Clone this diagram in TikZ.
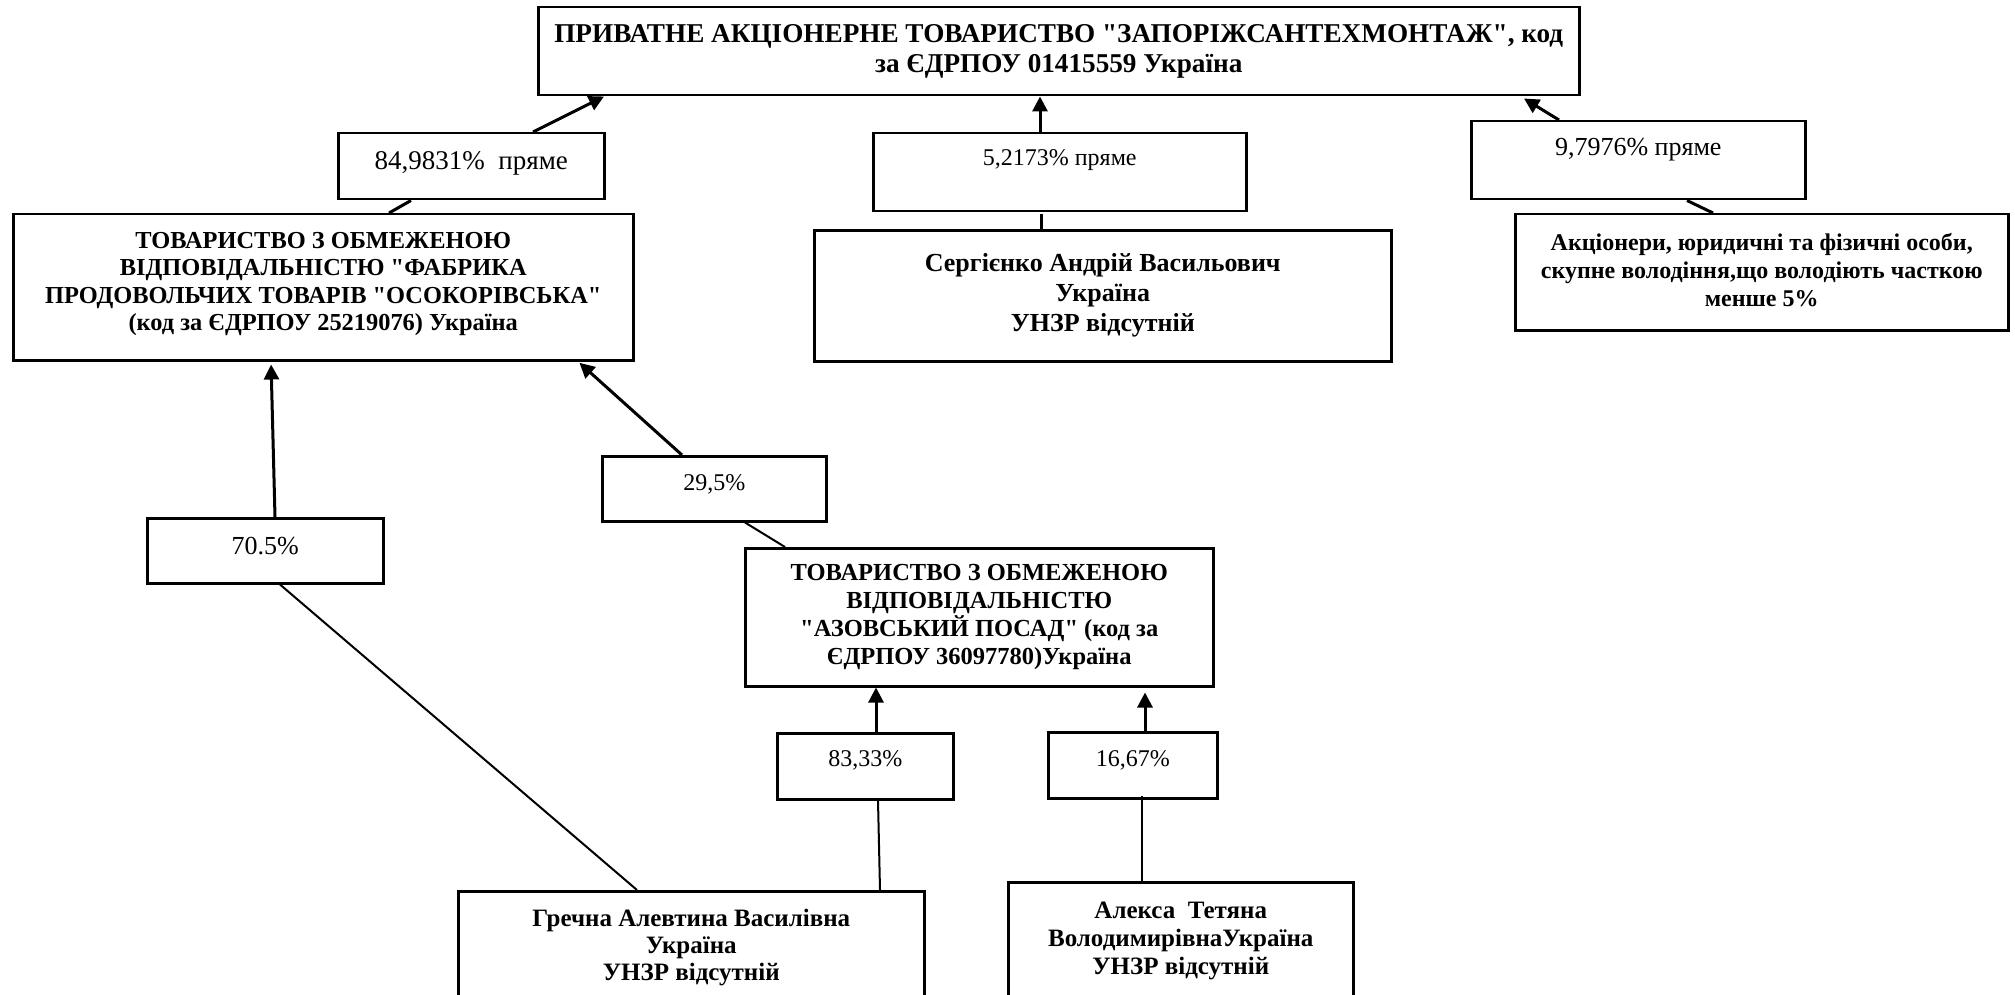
\documentclass[tikz,border=0pt]{standalone}
\usepackage{fontspec}
\setmainfont{Liberation Serif}[Ligatures=TeXOff]
\usetikzlibrary{arrows.meta}
\tikzset{
  entbox/.style={draw, line width=2.5pt, rectangle, inner sep=0pt, anchor=north west, align=center, font=\bfseries},
  pctbox/.style={draw, line width=2.5pt, rectangle, inner xsep=0pt, inner ysep=0pt, anchor=north west},
  arr/.style={line width=3pt, -{Triangle[length=15pt,width=15pt]}},
  thick link/.style={line width=3pt},
  thin link/.style={line width=2pt}
}
\begin{document}
\begin{tikzpicture}[x=1pt,y=-1pt]
\useasboundingbox (0,0) rectangle (2015,995);
% entity boxes
\node[entbox, minimum width=1041pt, minimum height=88pt, font=\fontsize{27.2}{30}\selectfont\bfseries] (A) at (537,6)
  {ПРИВАТНЕ АКЦІОНЕРНЕ ТОВАРИСТВО "ЗАПОРІЖСАНТЕХМОНТАЖ", код\\за ЄДРПОУ 01415559 Україна};
\node[entbox, minimum width=620pt, minimum height=146pt, font=\fontsize{24.4}{27.5}\selectfont\bfseries] (B) at (12,213)
  {ТОВАРИСТВО З ОБМЕЖЕНОЮ\\ВІДПОВІДАЛЬНІСТЮ "ФАБРИКА\\ПРОДОВОЛЬЧИХ ТОВАРІВ "ОСОКОРІВСЬКА"\\(код за ЄДРПОУ 25219076) Україна\rule[-12pt]{0pt}{1pt}};
\node[entbox, minimum width=577pt, minimum height=131pt, font=\fontsize{26}{30}\selectfont\bfseries] (C) at (813,229)
  {Сергієнко Андрій Васильович\\Україна\\УНЗР відсутній\rule[-6pt]{0pt}{1pt}};
\node[entbox, minimum width=493pt, minimum height=116pt, font=\fontsize{24}{28}\selectfont\bfseries] (D) at (1514,213)
  {Акціонери, юридичні та фізичні особи,\\скупне володіння,що володіють часткою\\менше 5\%\rule[-5pt]{0pt}{1pt}};
\node[entbox, minimum width=468pt, minimum height=138pt, font=\fontsize{24.5}{28}\selectfont\bfseries] (E) at (744,547)
  {ТОВАРИСТВО З ОБМЕЖЕНОЮ\\ВІДПОВІДАЛЬНІСТЮ\\"АЗОВСЬКИЙ ПОСАД" (код за\\ЄДРПОУ 36097780)Україна};
\node[entbox, minimum width=466pt, minimum height=113pt, font=\fontsize{25}{27}\selectfont\bfseries] (F) at (457,890)
  {Гречна Алевтина Василівна\\Україна\\УНЗР відсутній};
\node[entbox, minimum width=345pt, minimum height=117pt, font=\fontsize{25}{28}\selectfont\bfseries] (G) at (1007,881)
  {Алекса\ \ Тетяна\\ВолодимирівнаУкраїна\\УНЗР відсутній\rule[-5pt]{0pt}{1pt}};
% percentage boxes
\node[pctbox, minimum width=266pt, text height=36pt, text depth=30pt, font=\fontsize{27}{30}\selectfont] (p1) at (337,132) {84,9831\%\ \ пряме};
\node[pctbox, minimum width=373pt, text height=32pt, text depth=46pt, font=\fontsize{24}{28}\selectfont] (p2) at (872,132) {5,2173\% пряме};
\node[pctbox, minimum width=334pt, text height=34pt, text depth=44pt, font=\fontsize{26}{30}\selectfont] (p3) at (1470,120) {9,7976\% пряме};
\node[pctbox, minimum width=224pt, text height=34pt, text depth=31pt, font=\fontsize{24}{28}\selectfont] (p4) at (601,455) {29,5\%};
\node[pctbox, minimum width=236pt, text height=36pt, text depth=29pt, font=\fontsize{26}{30}\selectfont] (p5) at (146,517) {70.5\%};
\node[pctbox, minimum width=176pt, text height=33pt, text depth=33pt, font=\fontsize{24}{28}\selectfont] (p6) at (776,732) {83,33\%};
\node[pctbox, minimum width=169pt, text height=34pt, text depth=32pt, font=\fontsize{24}{28}\selectfont] (p7) at (1047,731) {16,67\%};
% connectors
\draw[arr] ([xshift=196pt]p1.north west) -- ([xshift=67pt]A.south west);
\draw[thick link] ([xshift=377pt]B.north west) -- ([xshift=74pt]p1.south west);
\draw[arr] ([xshift=168pt]p2.north west) -- ([xshift=503pt]A.south west);
\draw[thick link] ([xshift=228pt]C.north west) -- ([xshift=169pt,yshift=-2pt]p2.south west);
\draw[arr] ([xshift=89pt]p3.north west) -- ([xshift=987pt,yshift=-2pt]A.south west);
\draw[thick link] ([xshift=199pt]D.north west) -- ([xshift=217pt]p3.south west);
\draw[arr, shorten >=3pt] ([xshift=129pt]p5.north west) -- ([xshift=259pt]B.south west);
\draw[arr, shorten >=2pt] ([xshift=81pt]p4.north west) -- ([xshift=566pt]B.south west);
\draw[thin link] ([xshift=41pt]E.north west) -- ([xshift=144pt]p4.south west);
\draw[thin link] ([xshift=180pt]F.north west) -- ([xshift=134pt]p5.south west);
\draw[thin link] ([xshift=423pt]F.north west) -- ([xshift=102pt]p6.south west);
\draw[arr] ([xshift=100pt]p6.north west) -- ([xshift=132pt]E.south west);
\draw[thin link] ([xshift=135pt]G.north west) -- ([xshift=95pt,yshift=4pt]p7.south west);
\draw[arr, shorten >=5pt] ([xshift=98pt]p7.north west) -- ([xshift=401pt]E.south west);
\end{tikzpicture}
\end{document}
